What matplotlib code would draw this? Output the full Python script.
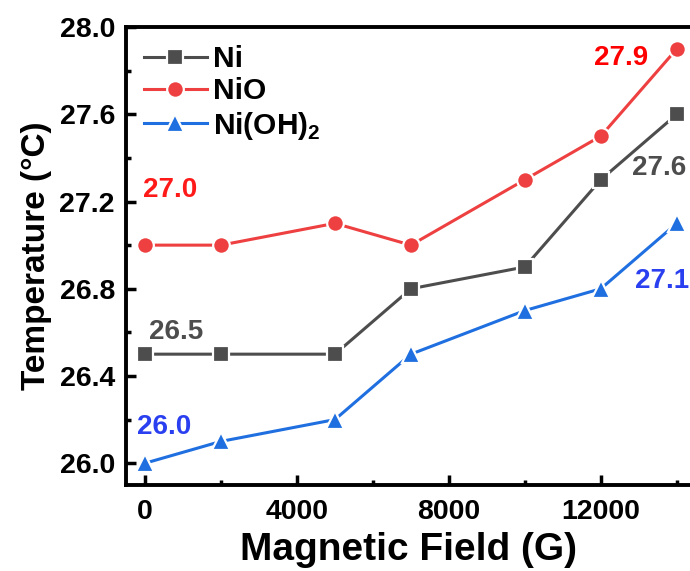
import matplotlib
matplotlib.use("Agg")
import matplotlib.pyplot as plt
from matplotlib.ticker import MultipleLocator, FormatStrFormatter

plt.rcParams["font.family"] = ["Liberation Sans", "DejaVu Sans"]
plt.rcParams["mathtext.fontset"] = "custom"
plt.rcParams["mathtext.rm"] = "Liberation Sans:bold"

field = [0, 2000, 5000, 7000, 10000, 12000, 14000]
ni = [26.5, 26.5, 26.5, 26.8, 26.9, 27.3, 27.6]
nio = [27.0, 27.0, 27.1, 27.0, 27.3, 27.5, 27.9]
nioh2 = [26.0, 26.1, 26.2, 26.5, 26.7, 26.8, 27.1]

series = [
    ("Ni", ni, "#4d4d4d", "s", 11),
    ("NiO", nio, "#ee4040", "o", 12),
    ("Ni(OH)$_\\mathregular{2}$", nioh2, "#1f6fe0", "^", 13),
]

# value labels: text, x, y, colour, ha
labels = [
    ("27.0", -50, 27.255, "#ff1a1a", "left"),
    ("26.5", 105, 26.60, "#4d4d4d", "left"),
    ("26.0", -210, 26.165, "#2a40f0", "left"),
    ("27.9", 13240, 27.856, "#ff0000", "right"),
    ("27.6", 12816, 27.353, "#4d4d4d", "left"),
    ("27.1", 12895, 26.837, "#2a40f0", "left"),
]

fig = plt.figure(figsize=(6.9, 5.71), dpi=100)
ax = fig.add_axes([0.1826, 0.1506, 0.8203, 0.802])

for name, vals, col, mk, ms in series:
    ax.plot(field, vals, color=col, lw=2.2, marker=mk, ms=ms,
            mfc=col, mec="white", mew=1.6, label=name)

for txt, x, y, col, ha in labels:
    ax.text(x, y, txt, color=col, fontsize=20, fontweight="bold",
            ha=ha, va="center")

ax.set_xlim(-500, 14400)
ax.set_ylim(25.9, 28.0)
ax.xaxis.set_major_locator(MultipleLocator(4000))
ax.xaxis.set_minor_locator(MultipleLocator(2000))
ax.yaxis.set_major_locator(MultipleLocator(0.4))
ax.yaxis.set_minor_locator(MultipleLocator(0.2))
ax.yaxis.set_major_formatter(FormatStrFormatter("%.1f"))

for s in ax.spines.values():
    s.set_linewidth(2.8)
ax.tick_params(which="major", direction="in", length=7, width=2.5,
               labelsize=20.5)
ax.tick_params(axis="x", which="major", pad=10)
ax.tick_params(axis="y", which="major", pad=8)
ax.tick_params(which="minor", direction="in", length=3.5, width=2.5)
for lab in ax.get_xticklabels() + ax.get_yticklabels():
    lab.set_fontweight("bold")

ax.set_xlabel("Magnetic Field (G)", fontsize=28, fontweight="bold", labelpad=5)
ax.set_ylabel("Temperature (°C)", fontsize=24, fontweight="bold", labelpad=5)

ax.legend(loc="upper left", frameon=False, handlelength=2.1,
          prop={"size": 21.5, "weight": "bold"},
          handletextpad=0.2, labelspacing=0.15, borderaxespad=0.2,
          bbox_to_anchor=(0.0, 1.0))

fig.savefig("out.png", dpi=100)
